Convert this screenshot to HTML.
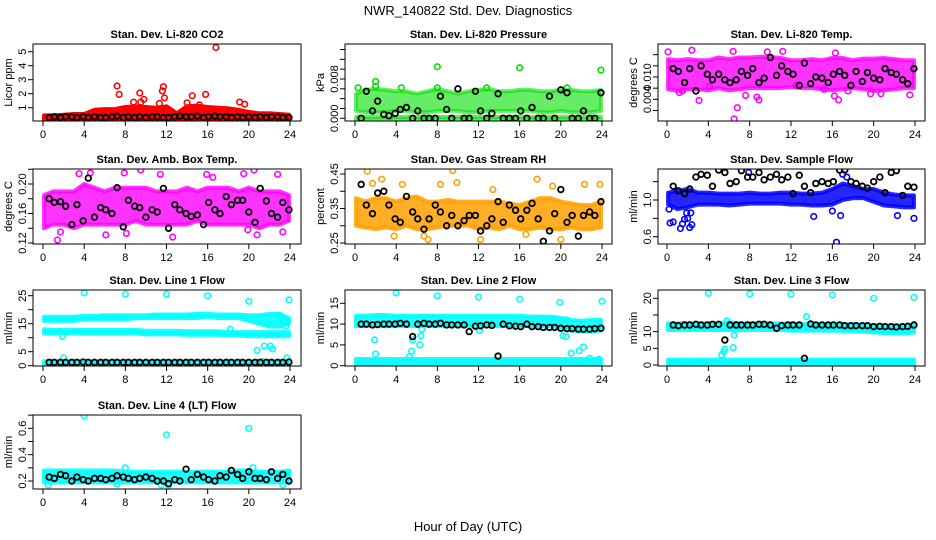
<!DOCTYPE html>
<html>
<head>
<meta charset="utf-8">
<style>
  html,body{margin:0;padding:0;background:#fff;}
  svg{display:block;font-family:"Liberation Sans",Arial,sans-serif;}
</style>
</head>
<body>
<svg id="chart" width="936" height="540" viewBox="0 0 936 540">
  <rect x="0" y="0" width="936" height="540" fill="#fff"/>
  <text x="468" y="15" font-size="13" text-anchor="middle">NWR_140822 Std. Dev. Diagnostics</text>
  <text x="468" y="531" font-size="13" text-anchor="middle">Hour of Day (UTC)</text>
</svg>
<script>
// ---------- shared data ----------
const xTickLabels = [0,4,8,12,16,20,24];
const blackHours = [0.6,1.1,1.7,2.2,2.8,3.3,3.9,4.4,5.0,5.6,6.1,6.7,7.2,7.8,8.3,8.9,9.4,10.0,10.6,11.1,11.7,12.2,12.8,13.3,13.9,14.4,15.0,15.6,16.1,16.7,17.2,17.8,18.3,18.9,19.4,20.0,20.6,21.1,21.7,22.2,22.8,23.3,23.9];
const bandHours = [0,1,2,3,4,5,6,7,8,9,10,11,12,13,14,15,16,17,18,19,20,21,22,23,24];

// CO2
const co2Lo = [0.15,0.15,0.15,0.15,0.15,0.15,0.15,0.15,0.15,0.15,0.15,0.15,0.15,0.15,0.15,0.15,0.15,0.15,0.15,0.15,0.15,0.15,0.15,0.15,0.15];
const co2Hi = [0.45,0.45,0.5,0.55,0.55,0.85,0.9,0.9,1.05,1.1,1.05,1.0,1.1,0.6,1.1,1.15,1.05,1.0,0.95,0.85,0.7,0.6,0.6,0.55,0.5];
const co2OutX = [7.2,7.4,9.4,9.8,9.5,11.7,11.6,11.8,11.3,14.5,15.8,16.8,15.2,14.0,19.1,19.6,8.8];
const co2OutY = [2.55,1.95,2.05,1.6,1.4,2.5,2.2,1.7,1.3,1.85,1.95,5.3,1.2,1.35,1.4,1.25,1.4];
const co2Black = [0.3,0.35,0.3,0.35,0.35,0.3,0.35,0.3,0.35,0.3,0.3,0.35,0.4,0.3,0.35,0.3,0.35,0.3,0.35,0.35,0.3,0.3,0.35,0.4,0.35,0.35,0.4,0.3,0.35,0.4,0.35,0.35,0.3,0.35,0.3,0.35,0.3,0.35,0.3,0.35,0.35,0.3,0.3];

// Pressure
const presLo = [0.0015,0.0012,0.0012,0.0012,0.0015,0.0015,0.0012,0.0012,0.0015,0.0015,0.0015,0.0012,0.0012,0.0015,0.0015,0.0015,0.0015,0.0015,0.0012,0.0012,0.0015,0.0012,0.0012,0.0012,0.0015];
const presHi = [0.005,0.0058,0.006,0.0058,0.0055,0.0055,0.005,0.0055,0.006,0.0055,0.005,0.0055,0.0058,0.006,0.0055,0.0055,0.0058,0.0058,0.0055,0.0055,0.0058,0.0058,0.0055,0.0055,0.0058];
const presZeroLo = [-0.0002,-0.0002,-0.0002,-0.0002,-0.0002,-0.0002,-0.0002,-0.0002,-0.0002,-0.0002,-0.0002,-0.0002,-0.0002,-0.0002,-0.0002,-0.0002,-0.0002,-0.0002,-0.0002,-0.0002,-0.0002,-0.0002,-0.0002,-0.0002,-0.0002];
const presZeroHi = [0.0003,0.0003,0.0003,0.0003,0.0003,0.0003,0.0003,0.0003,0.0003,0.0003,0.0003,0.0003,0.0003,0.0003,0.0003,0.0003,0.0003,0.0003,0.0003,0.0003,0.0003,0.0003,0.0003,0.0003,0.0003];
const presOutX = [8.0,16.0,23.9,2.0,2.0,8.0,0.3,4.5,12.8,20.6];
const presOutY = [0.0105,0.0103,0.0098,0.0075,0.0065,0.0062,0.0062,0.0062,0.0062,0.0062];
const presBlack = [0,0.0055,0.0015,0.0035,0.0008,0.0005,0.001,0.0018,0.0022,0,0.0015,0,0,0,0.0045,0.0018,0,0.006,0,0,0.0055,0.0015,0,0.001,0.005,0,0,0,0.0015,0,0.0022,0,0,0.0045,0,0.0058,0.0052,0,0,0.0015,0,0,0.0052];

// Li-820 Temp
const tempLo = [0.0078,0.0075,0.0078,0.0078,0.0076,0.008,0.0076,0.0078,0.008,0.008,0.008,0.008,0.0082,0.008,0.008,0.0078,0.0076,0.0078,0.008,0.0078,0.0075,0.0076,0.0078,0.008,0.008];
const tempHi = [0.0132,0.013,0.0132,0.013,0.013,0.0135,0.0132,0.0135,0.0135,0.0136,0.0136,0.0134,0.013,0.013,0.0132,0.013,0.0134,0.0134,0.013,0.0133,0.0133,0.0134,0.0132,0.013,0.013];
const tempOutX = [0.1,2.4,6.4,9.7,11.2,16.3,1.5,1.2,3.1,6.5,6.8,7.6,8.7,8.9,16.2,16.6,17.5,19.7,20.7,23.5,4.1,12.5,15.2];
const tempOutY = [0.0145,0.0148,0.0146,0.0145,0.0146,0.0143,0.0075,0.0072,0.0058,0.0025,0.0045,0.0067,0.0064,0.0059,0.0066,0.0059,0.0075,0.007,0.007,0.0068,0.0083,0.0085,0.0078];
const tempBlack = [0.0115,0.011,0.009,0.0115,0.0075,0.012,0.0105,0.0095,0.0105,0.0095,0.009,0.0095,0.011,0.0103,0.0115,0.009,0.0098,0.0135,0.0103,0.012,0.011,0.0105,0.0085,0.0125,0.0088,0.01,0.0098,0.009,0.0105,0.011,0.0103,0.0085,0.011,0.0092,0.0108,0.0098,0.0095,0.0115,0.0108,0.0105,0.0095,0.0088,0.0115];

// Amb box temp
const ambLo = [0.14,0.145,0.145,0.14,0.145,0.145,0.145,0.145,0.145,0.15,0.145,0.145,0.145,0.145,0.145,0.15,0.145,0.145,0.145,0.145,0.145,0.14,0.145,0.145,0.15];
const ambHi = [0.185,0.19,0.19,0.19,0.2,0.195,0.19,0.195,0.195,0.195,0.195,0.19,0.19,0.19,0.195,0.19,0.195,0.195,0.195,0.19,0.195,0.19,0.19,0.19,0.185];
const ambOutX = [1.4,1.7,3.5,4.6,7.9,8.1,9.5,11.4,12.6,15.9,16.5,19.5,20.5,20.8,22.8,23.3,6.1,19.9];
const ambOutY = [0.124,0.135,0.214,0.215,0.215,0.133,0.222,0.213,0.128,0.213,0.209,0.214,0.219,0.131,0.213,0.135,0.131,0.138];
const ambBlack = [0.18,0.175,0.176,0.17,0.145,0.172,0.15,0.208,0.155,0.168,0.165,0.16,0.195,0.142,0.178,0.17,0.168,0.155,0.165,0.162,0.194,0.14,0.172,0.165,0.16,0.156,0.158,0.145,0.175,0.165,0.16,0.183,0.172,0.178,0.178,0.162,0.148,0.194,0.177,0.16,0.155,0.175,0.165];

// Gas stream RH
const rhLo = [0.3,0.295,0.29,0.295,0.29,0.3,0.29,0.29,0.295,0.3,0.3,0.3,0.29,0.295,0.29,0.3,0.29,0.29,0.295,0.29,0.29,0.295,0.29,0.29,0.295];
const rhHi = [0.38,0.37,0.38,0.38,0.37,0.38,0.385,0.37,0.37,0.375,0.37,0.37,0.37,0.37,0.37,0.365,0.36,0.37,0.38,0.38,0.37,0.365,0.36,0.36,0.37];
const rhOutX = [1.2,1.7,2.6,3.8,4.6,7.1,8.3,9.5,9.9,12.2,13.4,17.7,19.2,20.0,22.3,23.8,6.7,16.6];
const rhOutY = [0.458,0.423,0.435,0.27,0.42,0.26,0.42,0.46,0.425,0.26,0.405,0.435,0.415,0.26,0.42,0.42,0.27,0.275];
const rhBlack = [0.42,0.36,0.335,0.395,0.4,0.36,0.32,0.31,0.385,0.34,0.32,0.29,0.32,0.36,0.34,0.3,0.33,0.3,0.315,0.33,0.33,0.285,0.3,0.32,0.37,0.31,0.36,0.345,0.32,0.345,0.365,0.32,0.255,0.285,0.335,0.405,0.31,0.33,0.27,0.33,0.34,0.33,0.37];

// Sample flow
const flowLo = [0.95,0.9,0.92,0.95,0.95,0.95,0.94,0.95,0.96,0.96,0.96,0.96,0.95,0.95,0.94,0.94,0.95,1.0,1.02,1.02,0.98,0.94,0.93,0.92,0.92];
const flowHi = [1.08,1.1,1.12,1.08,1.08,1.07,1.07,1.07,1.08,1.07,1.07,1.08,1.08,1.07,1.07,1.08,1.12,1.18,1.15,1.12,1.12,1.08,1.06,1.05,1.05];
const flowOutX = [0.2,0.3,0.6,1.3,1.5,1.7,2.0,2.2,2.4,1.9,2.3,14.2,16.4,16.8,22.3,23.9,16.0,17.4,17.0,7.9];
const flowOutY = [0.9,0.75,0.76,0.69,0.74,0.79,0.8,0.7,0.73,0.86,0.86,0.82,0.54,0.83,0.83,0.8,0.88,1.25,1.28,1.3];
const flowBlack = [1.15,1.1,1.07,1.12,1.25,1.28,1.27,1.15,1.35,1.3,1.18,1.2,1.32,1.25,1.25,1.3,1.22,1.25,1.28,1.22,1.25,1.07,1.27,1.15,1.08,1.18,1.2,1.18,1.2,1.35,1.4,1.2,1.18,1.15,1.13,1.2,1.25,1.08,1.3,1.32,1.05,1.15,1.14];

// low-band (shared shape for line flows)
const lowBandLo = [0.3,0.3,0.3,0.3,0.3,0.3,0.3,0.3,0.3,0.3,0.3,0.3,0.3,0.3,0.3,0.3,0.3,0.3,0.3,0.3,0.3,0.3,0.3,0.3,0.3];
const lowBandHi = [1.6,1.6,1.6,1.6,1.6,1.6,1.6,1.6,1.6,1.6,1.6,1.6,1.6,1.6,1.6,1.6,1.6,1.6,1.6,1.6,1.6,1.6,1.6,1.6,1.6];

// Line 1
const l1UpLo = [16,16,16,16,16.5,16.5,16.5,16.5,16.5,17,17,17,17,17,17,17,17.5,17,17,17,16,15,14,14,15];
const l1UpHi = [17.5,17.5,17.5,17.5,17.8,17.8,18,18,18,18,18,18.3,18.3,18.3,18.3,18.5,18.5,18.3,18.3,18.3,18,18,18.5,18.5,17];
const l1MidLo = [11.5,11.5,11.5,11.5,11.5,11.5,11.5,11.5,11.5,11.5,11.2,11.2,11.2,11.2,11,11,11,11,10.8,10.8,10.5,10.5,10.5,10.5,10.5];
const l1MidHi = [13,12.8,12.8,12.8,12.8,12.8,12.8,12.8,12.8,12.8,12.5,12.5,12.5,12.5,12.3,12.3,12.3,12.3,12,12,12,12,12,12,12];
const l1OutX = [4,8,12,16,20,23.9,2,1.9,18.2,20.8,21.5,22.1,22.3,21.3,23.7,22.6,21.8,23.4,23.6,23];
const l1OutY = [26,25.5,25.5,25,23,23.5,2.8,10.5,13,5.5,7,7,6,1.5,2.8,15,15,16,14,18];
const l1Black = [1.2,1.2,1.2,1.2,1.2,1.2,1.3,1.2,1.2,1.2,1.2,1.2,1.2,1.2,1.2,1.2,1.2,1.2,1.2,1.2,1.2,1.2,1.2,1.2,1.2,1.2,1.2,1.2,1.2,1.2,1.2,1.2,1.2,1.2,1.2,1.2,1.2,1.2,1.2,1.2,1.2,1.2,1.3];

// Line 2
const l2Lo = [9.5,9.5,9.5,9.5,9.5,9.5,9.5,9.5,9.5,9.5,9.5,9.5,9.5,9.5,9.5,9.5,9.5,9.5,9.5,9.5,9,8.5,8.2,8.2,8.5];
const l2Hi = [12,12,12.2,12.2,12,12,12,12,12,12,12,12,12,12,12,12,12,11.8,11.8,11.8,11.5,11,10.8,11,11];
const l2OutX = [1.9,2,4,5.3,5.5,5.6,6.3,6.4,6.5,8,12,12.1,16,19.9,20.2,20.5,21,21.8,22.2,22.8,23.7,24,20.6];
const l2OutY = [6.2,2.8,17.5,2.2,3.5,6.2,5,7.2,8.8,16.8,16.5,8.5,16,15.2,7.2,7,3,3.6,4.5,1.8,1.5,15.5,11];
const l2Black = [10,10,9.8,9.9,10,10,10,10.2,10,7,10,10.2,10,10,10.2,9.8,9.8,9.8,9.8,8.2,9.5,9.6,9.8,9.7,2.3,10,9.6,9.5,9.4,10,9.4,9.4,9.2,9.2,9.2,9,8.9,8.9,8.8,8.8,8.8,8.9,9];

// Line 3
const l3Lo = [10.5,10.5,10.5,10.5,10.5,10.5,10.5,10.5,10.5,10.5,10.5,10.5,10.3,10.3,10.3,10.3,10.3,10.2,10.2,10,9.8,9.6,9.5,9.5,9.8];
const l3Hi = [12.5,12.5,12.5,12.5,12.5,12.5,12.8,12.5,12.5,12.5,12.5,12.5,12.5,12.3,12.3,12.3,12.3,12.2,12.2,12,12,11.8,11.8,11.8,12];
const l3OutX = [4,8,12,16,20,23.9,5.3,5.5,5.6,6.4,6.5,5.8,13.5,1.8,2.4];
const l3OutY = [21.5,21.3,21.2,21,20,20.3,3,4,4.8,5.2,9,13.2,14.5,0.2,0.3];
const l3Black = [12,11.8,12,12,12.2,12,12,12.2,12.2,7.5,12,12,12,12,12,12.2,12.2,12,11,11.8,12,12,12,2,12.3,12,12,12,12,12,11.8,11.8,11.8,11.8,11.8,11.5,11.6,11.5,11.5,11.4,11.5,11.6,12];

// Line 4
const l4Lo = [0.19,0.19,0.19,0.19,0.19,0.19,0.19,0.19,0.19,0.19,0.19,0.19,0.19,0.19,0.19,0.19,0.19,0.19,0.19,0.19,0.19,0.19,0.19,0.19,0.19];
const l4Hi = [0.28,0.28,0.28,0.28,0.28,0.28,0.28,0.28,0.27,0.27,0.27,0.27,0.27,0.27,0.27,0.27,0.27,0.27,0.27,0.28,0.28,0.27,0.27,0.27,0.28];
const l4OutX = [4,12,20,8,20.4,0.5,12.2,11.5,7.2,23.3];
const l4OutY = [0.7,0.55,0.6,0.3,0.3,0.17,0.165,0.17,0.175,0.17];
const l4Black = [0.23,0.22,0.25,0.24,0.2,0.23,0.21,0.2,0.22,0.22,0.21,0.22,0.24,0.23,0.22,0.21,0.22,0.23,0.22,0.2,0.2,0.18,0.21,0.2,0.29,0.21,0.25,0.23,0.21,0.2,0.24,0.23,0.28,0.25,0.22,0.27,0.22,0.22,0.21,0.27,0.22,0.25,0.2];

// ---------- layout ----------
const cols = [{L:33,R:301,x0:43,x24:290},{L:345,R:612,x0:355,x24:602},{L:658,R:925,x0:667,x24:915}];
const rows = [{T:44,B:121},{T:169,B:244},{T:290,B:366},{T:415,B:489}];

const panels = [
 {name:'co2',title:'Stan. Dev. Li-820 CO2',ylab:'Licor ppm',c:0,r:0,v0:1,y0:107.7,v1:5,y1:51.7,color:'#ff0000',op:1,
  ticks:[1,2,3,4,5],labels:['1','2','3','4','5'],bands:[[co2Lo,co2Hi]],ox:co2OutX,oy:co2OutY,blk:co2Black},
 {name:'pressure',title:'Stan. Dev. Li-820 Pressure',ylab:'kPa',c:1,r:0,v0:0,y0:118.3,v1:0.008,y1:79,color:'#00e000',op:0.6,
  ticks:[0,0.002,0.004,0.006,0.008,0.010,0.012,0.014],labels:['0.000','','','','0.008','','',''],bands:[[presLo,presHi],[presZeroLo,presZeroHi]],ox:presOutX,oy:presOutY,blk:presBlack},
 {name:'li820-temp',title:'Stan. Dev. Li-820 Temp.',ylab:'degrees C',c:2,r:0,v0:0.004,y0:110.5,v1:0.010,y1:77,color:'#ff00ff',op:0.8,
  ticks:[0.004,0.006,0.008,0.010,0.012,0.014],labels:['','0.004','','0.010','',''],bands:[[tempLo,tempHi]],ox:tempOutX,oy:tempOutY,blk:tempBlack},
 {name:'amb-box-temp',title:'Stan. Dev. Amb. Box Temp.',ylab:'degrees C',c:0,r:1,v0:0.12,y0:243,v1:0.20,y1:184,color:'#ff00ff',op:0.8,
  ticks:[0.12,0.14,0.16,0.18,0.20,0.22],labels:['0.12','','0.16','','0.20',''],bands:[[ambLo,ambHi]],ox:ambOutX,oy:ambOutY,blk:ambBlack},
 {name:'gas-stream-rh',title:'Stan. Dev. Gas Stream RH',ylab:'percent',c:1,r:1,v0:0.25,y0:243,v1:0.45,y1:174,color:'#ffa000',op:0.85,
  ticks:[0.25,0.30,0.35,0.40,0.45],labels:['0.25','','0.35','','0.45'],bands:[[rhLo,rhHi]],ox:rhOutX,oy:rhOutY,blk:rhBlack},
 {name:'sample-flow',title:'Stan. Dev. Sample Flow',ylab:'ml/min',c:2,r:1,v0:0.6,y0:236.7,v1:1.0,y1:200,color:'#0000ff',op:0.85,
  ticks:[0.6,0.8,1.0,1.2],labels:['0.6','','1.0',''],bands:[[flowLo,flowHi]],ox:flowOutX,oy:flowOutY,blk:flowBlack},
 {name:'line1-flow',title:'Stan. Dev. Line 1 Flow',ylab:'ml/min',c:0,r:2,v0:0,y0:365.7,v1:25,y1:295.7,color:'#00ffff',op:0.9,
  ticks:[0,5,10,15,20,25],labels:['0','5','','15','','25'],bands:[[l1UpLo,l1UpHi],[l1MidLo,l1MidHi],[lowBandLo,lowBandHi]],ox:l1OutX,oy:l1OutY,blk:l1Black},
 {name:'line2-flow',title:'Stan. Dev. Line 2 Flow',ylab:'ml/min',c:1,r:2,v0:0,y0:365.7,v1:15,y1:303.3,color:'#00ffff',op:0.9,
  ticks:[0,5,10,15],labels:['0','5','10','15'],bands:[[l2Lo,l2Hi],[lowBandLo,lowBandHi]],ox:l2OutX,oy:l2OutY,blk:l2Black},
 {name:'line3-flow',title:'Stan. Dev. Line 3 Flow',ylab:'ml/min',c:2,r:2,v0:0,y0:365,v1:20,y1:298.3,color:'#00ffff',op:0.9,
  ticks:[0,5,10,15,20],labels:['0','5','10','','20'],bands:[[l3Lo,l3Hi],[lowBandLo,lowBandHi]],ox:l3OutX,oy:l3OutY,blk:l3Black},
 {name:'line4-flow',title:'Stan. Dev. Line 4 (LT) Flow',ylab:'ml/min',c:0,r:3,v0:0.2,y0:481,v1:0.6,y1:428.3,color:'#00ffff',op:0.9,
  ticks:[0.2,0.3,0.4,0.5,0.6,0.7],labels:['0.2','','0.4','','0.6',''],bands:[[l4Lo,l4Hi]],ox:l4OutX,oy:l4OutY,blk:l4Black}
];

const NS = 'http://www.w3.org/2000/svg';
const svg = document.getElementById('chart');
function mk(tag, attrs, parent){
  const e = document.createElementNS(NS, tag);
  for (const k in attrs) e.setAttribute(k, attrs[k]);
  parent.appendChild(e);
  return e;
}

panels.forEach(p => {
  const col = cols[p.c], row = rows[p.r];
  const xs = h => col.x0 + h * (col.x24 - col.x0) / 24;
  const ys = v => p.y0 + (v - p.v0) * (p.y1 - p.y0) / (p.v1 - p.v0);
  const clampY = y => Math.max(row.T + 1, Math.min(row.B - 1, y));

  const g = mk('g', {}, svg);
  
  

  const clipId = 'clip-' + p.name;
  const cp = mk('clipPath', {id: clipId}, g);
  mk('rect', {x: col.L, y: row.T, width: col.R - col.L, height: row.B - row.T}, cp);

  const plot = mk('g', {'clip-path': 'url(#' + clipId + ')'}, g);
  
  

  p.bands.forEach((b, bi) => {
    const lo = b[0], hi = b[1];
    const pts = [];
    bandHours.forEach((h, i) => pts.push(xs(Math.min(23.9, Math.max(0.1, h))) + ',' + ys(hi[i])));
    for (let i = bandHours.length - 1; i >= 0; i--) pts.push(xs(Math.min(23.9, Math.max(0.1, bandHours[i]))) + ',' + ys(lo[i]));
    const poly = mk('polygon', {points: pts.join(' '), fill: p.color, 'fill-opacity': p.op, stroke: p.color, 'stroke-width': 4, 'stroke-linejoin': 'round', 'stroke-opacity': p.op}, plot);
    
    
  });

  p.ox.forEach((h, i) => {
    const c = mk('circle', {cx: xs(h), cy: clampY(ys(p.oy[i])), r: 2.8, fill: 'none', stroke: p.color, 'stroke-width': 1.6}, plot);
    
    
  });

  blackHours.forEach((h, i) => {
    const c = mk('circle', {cx: xs(h), cy: clampY(ys(p.blk[i])), r: 2.8, fill: 'none', stroke: '#000', 'stroke-width': 1.8}, plot);
    
    
  });

  const box = mk('rect', {x: col.L, y: row.T, width: col.R - col.L, height: row.B - row.T, fill: 'none', stroke: '#000', 'stroke-width': 1}, g);
  
  

  const t = mk('text', {x: (col.L + col.R) / 2, y: row.T - 6, 'font-size': 11, 'font-weight': 'bold', 'text-anchor': 'middle'}, g);
  t.textContent = p.title;
  
  

  xTickLabels.forEach(h => {
    const x = xs(h);
    const tk = mk('line', {x1: x, x2: x, y1: row.B, y2: row.B + 5, stroke: '#000', 'stroke-width': 1}, g);
    
    
    const lb = mk('text', {x: x, y: row.B + 17, 'font-size': 11, 'text-anchor': 'middle'}, g);
    lb.textContent = String(h);
    
    
  });

  p.ticks.forEach((v, i) => {
    const y = ys(v);
    if (y < row.T - 1 || y > row.B + 1) return;
    const tk = mk('line', {x1: col.L - 5, x2: col.L, y1: y, y2: y, stroke: '#000', 'stroke-width': 1}, g);
    
    
    if (p.labels[i]) {
      const lb = mk('text', {x: 0, y: 0, 'font-size': 11, 'text-anchor': 'middle', transform: 'translate(' + (col.L - 7) + ',' + y + ') rotate(-90)'}, g);
      lb.textContent = p.labels[i];
      
      
    }
  });

  const yl = mk('text', {x: 0, y: 0, 'font-size': 11, 'text-anchor': 'middle', transform: 'translate(' + (col.L - 21) + ',' + ((row.T + row.B) / 2) + ') rotate(-90)'}, g);
  yl.textContent = p.ylab;
  
  
});
</script>
</body>
</html>
